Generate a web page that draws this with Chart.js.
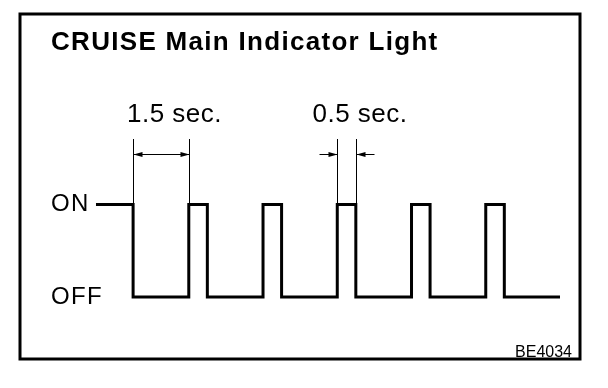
<!DOCTYPE html>
<html><head><meta charset="utf-8">
<script src="https://cdn.jsdelivr.net/npm/chart.js@4"></script>
<style>html,body{margin:0;background:#fff}</style>
</head><body>
<canvas id="c" width="608" height="388"></canvas>
<script>
'use strict';
/* CRUISE main indicator light — blink pattern (step chart). */

// ---------- dane ----------
const times = [-1, 0, 1.5, 2, 3.5, 4, 5.5, 6, 7.5, 8, 9.5, 10, 11.5]; // s
const states = [1, 0, 1, 0, 1, 0, 1, 0, 1, 0, 1, 0, 0];
const stateLabels = ['OFF', 'ON'];
const dimFrom = [0, 5.5];
const dimTo = [1.5, 6];
const dimLabels = ['1.5 sec.', '0.5 sec.'];
const TITLE = 'CRUISE Main Indicator Light';
const FIGNO = 'BE4034';

const FAM = '"Liberation Sans", Arial, Helvetica, sans-serif';
Chart.defaults.color = '#000';
Chart.defaults.font.family = FAM;

function arrow(ctx, tipX, y, dir) {
  ctx.beginPath();
  ctx.moveTo(tipX, y);
  ctx.lineTo(tipX - dir * 9, y - 2.5);
  ctx.lineTo(tipX - dir * 9, y + 2.5);
  ctx.closePath();
  ctx.fill();
}

// rozstrzelenie liter tytułu / etykiet osi
const spacing = {
  id: 'spacing',
  beforeDraw(chart) { chart.ctx.letterSpacing = '1.3px'; },
  beforeDatasetsDraw(chart) { chart.ctx.letterSpacing = '0px'; },
};

// ramka, wymiary, opisy
const annot = {
  id: 'annot',
  afterDraw(chart) {
    const { ctx, scales: { x, y } } = chart;
    const onY = y.getPixelForValue(1);
    ctx.save();
    ctx.strokeStyle = '#000';
    ctx.fillStyle = '#000';
    ctx.lineWidth = 3;
    ctx.strokeRect(20, 14, 560, 345);

    ctx.lineWidth = 1;
    dimFrom.forEach((f, i) => {
      const a = Math.round(x.getPixelForValue(f)) + 0.5;
      const b = Math.round(x.getPixelForValue(dimTo[i])) + 0.5;
      const inside = b - a > 30;
      const yy = 154.5;
      ctx.beginPath();
      ctx.moveTo(a, 139); ctx.lineTo(a, onY);
      ctx.moveTo(b, 139); ctx.lineTo(b, onY);
      if (inside) {
        ctx.moveTo(a, yy); ctx.lineTo(b, yy);
      } else {
        ctx.moveTo(a - 18, yy); ctx.lineTo(a, yy);
        ctx.moveTo(b + 18, yy); ctx.lineTo(b, yy);
      }
      ctx.stroke();
      if (inside) { arrow(ctx, a, yy, -1); arrow(ctx, b, yy, 1); }
      else { arrow(ctx, a, yy, 1); arrow(ctx, b, yy, -1); }

      ctx.letterSpacing = '0.5px';
      ctx.font = '26px ' + FAM;
      ctx.textAlign = 'center';
      ctx.textBaseline = 'alphabetic';
      ctx.fillText(dimLabels[i], (a + b) / 2 + 13, 122);
    });

    ctx.letterSpacing = '0px';
    ctx.font = '16px ' + FAM;
    ctx.textAlign = 'right';
    ctx.fillText(FIGNO, 572, 357);
    ctx.restore();
  },
};

new Chart(document.getElementById('c'), {
  type: 'line',
  data: {
    datasets: [{
      data: times.map((t, i) => ({ x: t, y: states[i] })),
      stepped: 'before',
      borderColor: '#000',
      borderWidth: 3,
      borderJoinStyle: 'miter',
      pointRadius: 0,
      fill: false,
      clip: false,
    }],
  },
  options: {
    responsive: false,
    animation: false,
    layout: { padding: { left: 51, right: 48, top: 27, bottom: 91 } },
    plugins: {
      legend: { display: false },
      tooltip: { enabled: false },
      title: {
        display: true, text: TITLE, align: 'start', color: '#000',
        font: { size: 26, weight: 'bold', family: FAM },
        padding: { top: 0, bottom: 146.3 },
      },
    },
    scales: {
      // lewy koniec osi w 106 px, pierwszy punkt (-1 s) wystaje do ~95 px (clip: false)
      x: { type: 'linear', min: -0.73, max: 11.5, display: false },
      y: {
        min: 0, max: 1,
        grid: { display: false }, border: { display: false },
        ticks: { stepSize: 1, padding: 0, crossAlign: 'far', color: '#000',
          font: { size: 24 }, callback: v => stateLabels[v] },
        afterFit: s => { s.width = 55; },
      },
    },
  },
  plugins: [spacing, annot],
});
</script>
</body></html>
